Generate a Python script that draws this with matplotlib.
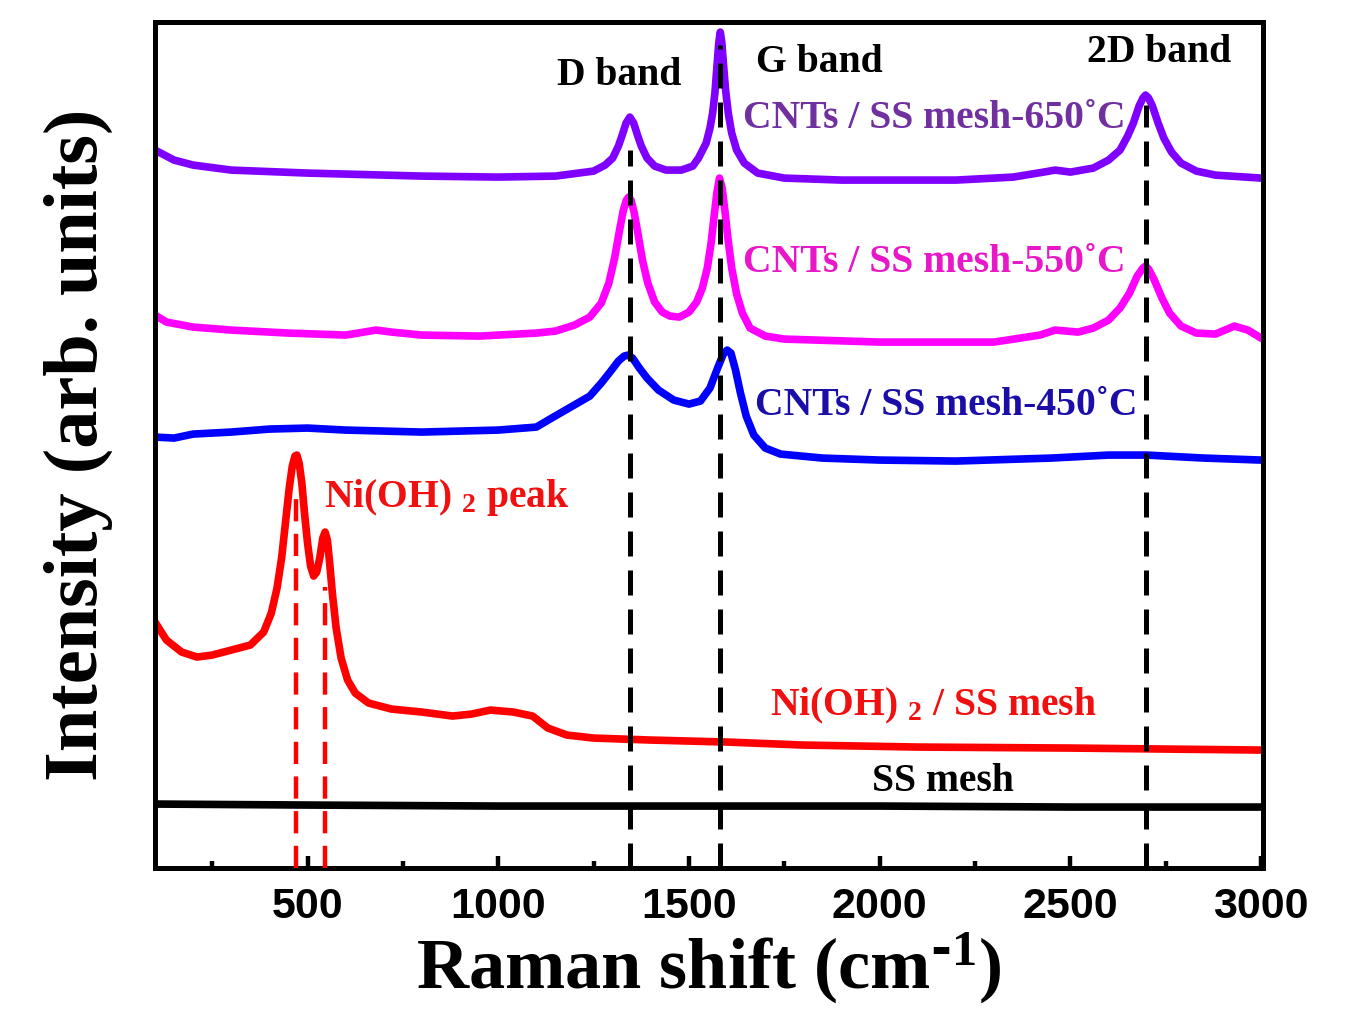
import numpy as np
import matplotlib
matplotlib.use('Agg')
import matplotlib.pyplot as plt
from matplotlib import font_manager
from matplotlib.ticker import MultipleLocator

plt.rcParams['font.family'] = ['Liberation Serif', 'DejaVu Serif']
plt.rcParams['font.weight'] = 'bold'
plt.rcParams['mathtext.default'] = 'regular'

##############################################
# Spectra (arb. units)
##############################################
shift_650 = [100, 150, 200, 300, 500, 800, 1000, 1150, 1250, 1280, 1300, 1315, 1325, 1335,
             1345, 1355, 1365, 1375, 1390, 1410, 1440, 1480, 1510, 1525, 1545, 1555, 1562,
             1568, 1574, 1578, 1582, 1586, 1590, 1596, 1603, 1612, 1625, 1645, 1680, 1750,
             1900, 2200, 2350, 2430, 2460, 2500, 2560, 2600, 2630, 2650, 2665, 2680, 2690,
             2697, 2705, 2715, 2730, 2745, 2765, 2790, 2830, 2880, 3000]
int_650 = [718, 708, 703, 698, 695, 692, 691, 692, 697, 703, 710, 722, 733, 745,
           751, 745, 733, 722, 710, 702, 698, 698, 702, 710, 725, 740, 755,
           775, 805, 825, 836, 826, 806, 778, 755, 735, 718, 705, 695, 690,
           688, 688, 691, 696, 698, 696, 700, 708, 718, 732, 745, 762, 770,
           773, 770, 762, 745, 730, 716, 705, 697, 693, 690]

shift_550 = [100, 130, 200, 300, 450, 600, 680, 720, 800, 950, 1100, 1150, 1200, 1240,
             1270, 1290, 1305, 1318, 1328, 1336, 1342, 1348, 1356, 1366, 1378, 1392, 1410,
             1430, 1450, 1475, 1500, 1520, 1535, 1548, 1558, 1566, 1573, 1580, 1587, 1594,
             1602, 1612, 1625, 1640, 1660, 1700, 1750, 2000, 2300, 2420, 2460, 2520, 2560,
             2600, 2630, 2655, 2675, 2690, 2697, 2705, 2720, 2740, 2760, 2790, 2830, 2880,
             2930, 2965, 3000]
int_550 = [553, 546, 541, 538, 535, 533, 538, 536, 533, 532, 535, 537, 543, 551,
           565, 585, 610, 638, 658, 668, 671, 668, 656, 635, 608, 585, 566,
           556, 552, 551, 556, 566, 580, 600, 625, 652, 675, 690, 680, 658,
           630, 600, 574, 555, 540, 532, 529, 526, 526, 533, 538, 536, 540,
           548, 560, 575, 592, 600, 602, 599, 588, 570, 555, 542, 535, 534,
           542, 538, 530]

shift_450 = [100, 150, 200, 300, 400, 500, 600, 800, 1000, 1100, 1140, 1190, 1240, 1270,
             1295, 1315, 1330, 1340, 1352, 1370, 1390, 1420, 1460, 1500, 1530, 1555, 1575,
             1590, 1600, 1610, 1622, 1635, 1650, 1670, 1700, 1740, 1850, 2000, 2200, 2450,
             2600, 2700, 2850, 3000]
int_450 = [431, 430, 434, 436, 439, 440, 438, 436, 438, 441, 450, 461, 472, 485,
           497, 507, 512, 513, 510, 500, 490, 478, 468, 464, 467, 480, 500,
           514, 518, 515, 498, 475, 452, 433, 420, 414, 410, 408, 407, 410,
           413, 413, 410, 408]

shift_ni = [100, 130, 170, 210, 250, 300, 350, 385, 405, 420, 432, 442, 452, 460, 467,
            472, 478, 485, 492, 500, 508, 516, 524, 532, 540, 546, 552, 558, 565, 575,
            588, 605, 625, 660, 720, 800, 880, 930, 980, 1040, 1090, 1130, 1180, 1250,
            1400, 1600, 1800, 2100, 2500, 3000]
int_ni = [246, 228, 216, 211, 213, 218, 223, 236, 255, 280, 310, 345, 380, 402, 412,
          413, 405, 385, 355, 325, 302, 292, 296, 310, 330, 336, 328, 305, 275, 240,
          210, 188, 175, 165, 159, 156, 152, 154, 158, 156, 152, 140, 133, 130,
          128, 126, 123, 121, 120, 118]

shift_ss = [100, 500, 1000, 1500, 2000, 2500, 3000]
int_ss = [64, 63, 62, 62, 62, 61, 61]

# band positions (cm-1) and where their guide lines start
band_pos = [1345, 1582, 2697]
band_top = [718, 823, 763]
ni_pos = [470, 547]
ni_top = [371, 281]

##############################################
# Figure
##############################################
fig = plt.figure(figsize=(13.69, 10.18), dpi=100)
ax = fig.add_axes([0.1132, 0.1473, 0.8094, 0.831])

lw = 5.5
ax.plot(shift_650, int_650, color='#8000FF', lw=lw, solid_joinstyle='round')
ax.plot(shift_550, int_550, color='#FF00FF', lw=lw, solid_joinstyle='round')
ax.plot(shift_450, int_450, color='#0000FF', lw=lw, solid_joinstyle='round')
ax.plot(shift_ni, int_ni, color='#FF0000', lw=lw, solid_joinstyle='round')
ax.plot(shift_ss, int_ss, color='black', lw=lw)

for x, top in zip(band_pos, band_top):
    ax.plot([x, x], [0, top], color='black', lw=3.6, dashes=(5, 2.8), zorder=3)
for x, top in zip(ni_pos, ni_top):
    ax.plot([x, x], [0, top], color='#FF0000', lw=3.2, dashes=(5, 2.8), zorder=3)

ax.set_xlim(100, 3005)
ax.set_ylim(0, 846)

# annotations
ts = 28.5
ax.text(1317, 793, 'D band', fontsize=ts, ha='center', va='center')
ax.text(1843, 806, 'G band', fontsize=ts, ha='center', va='center')
ax.text(2733, 816, '2D band', fontsize=ts, ha='center', va='center')
ax.text(2144, 750, 'CNTs / SS mesh-650˚C', fontsize=ts, color='#7030A0', ha='center', va='center')
ax.text(2144, 606, 'CNTs / SS mesh-550˚C', fontsize=ts, color='#E818C8', ha='center', va='center')
ax.text(2175, 463, 'CNTs / SS mesh-450˚C', fontsize=ts, color='#1A0DA8', ha='center', va='center')
ax.text(866, 371, 'Ni(OH)$_{\\ 2}$ peak', fontsize=ts, color='#F01010', ha='center', va='center')
ax.text(2141, 162, 'Ni(OH)$_{\\ 2}$ / SS mesh', fontsize=ts, color='#F01010', ha='center', va='center')
ax.text(2167, 87, 'SS mesh', fontsize=ts, ha='center', va='center')

# axes styling
for s in ax.spines.values():
    s.set_linewidth(3.6)
ax.set_yticks([])
ax.xaxis.set_major_locator(MultipleLocator(500))
ax.xaxis.set_minor_locator(MultipleLocator(250))
ax.tick_params(axis='x', which='major', direction='in', length=9, width=3.2, pad=14)
ax.tick_params(axis='x', which='minor', direction='in', length=5, width=3.2)

names = {f.name for f in font_manager.fontManager.ttflist}
if 'Liberation Sans Narrow' in names:
    tick_font, tick_size = 'Liberation Sans Narrow', 37
else:
    tick_font, tick_size = 'Liberation Sans', 31
for lab in ax.get_xticklabels():
    lab.set_fontfamily(tick_font)
    lab.set_fontsize(tick_size)
    lab.set_fontweight('bold')

ax.set_xlabel('Raman shift (cm$^{\\text{-}1}$)', fontsize=52, fontweight='bold', labelpad=2)
ax.set_ylabel('Intensity (arb. units)', fontsize=55, fontweight='bold', labelpad=30)

plt.savefig('out.png', dpi=100)
